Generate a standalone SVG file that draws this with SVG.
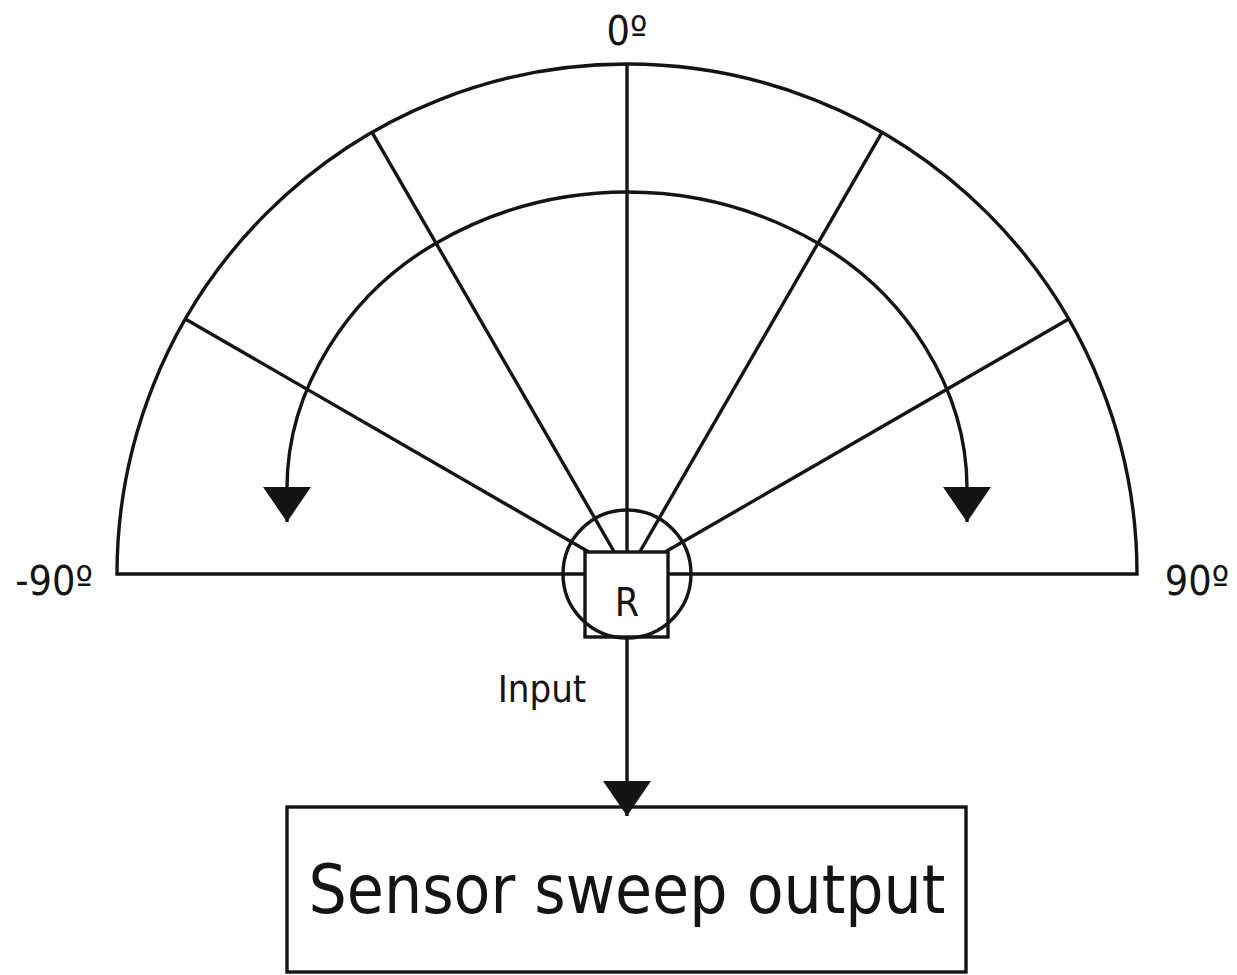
<svg xmlns="http://www.w3.org/2000/svg" width="1237" height="975" viewBox="0 0 1237 975">
<style>
.ln{fill:none;stroke:#141414;stroke-width:3.4;stroke-linejoin:miter}
.tx{font-family:"DejaVu Sans Condensed","DejaVu Sans",sans-serif;fill:#141414}
</style>
<defs>
<marker id="ah" markerUnits="userSpaceOnUse" viewBox="0 0 35 48" refX="35" refY="24" markerWidth="35" markerHeight="48" orient="auto">
<path d="M0,0 L35,24 L0,48 Z" fill="#141414"/>
</marker>
</defs>
<rect width="1237" height="975" fill="#fff"/>
<g id="sweep-field">
<path class="ln" d="M585,574 L117,574 A510,510 0 0 1 1137,574 L668,574"/>
<line class="ln" x1="185.3" y1="319" x2="588.9" y2="552"/>
<line class="ln" x1="372" y1="132.3" x2="614.3" y2="552"/>
<line class="ln" x1="627" y1="64" x2="627" y2="552"/>
<line class="ln" x1="882" y1="132.3" x2="639.7" y2="552"/>
<line class="ln" x1="1068.7" y1="319" x2="665.1" y2="552"/>
<circle class="ln" cx="627" cy="574" r="64"/>
</g>
<g id="sensor-R">
<rect class="ln" x="585" y="552" width="83" height="85"/>
<text class="tx" x="627" y="616" font-size="39" text-anchor="middle">R</text>
</g>
<g id="labels">
<text class="tx" x="627" y="45" font-size="41" text-anchor="middle">0º</text>
<text class="tx" x="54" y="595" font-size="41" text-anchor="middle">-90º</text>
<text class="tx" x="1197" y="595" font-size="41" text-anchor="middle">90º</text>
</g>
<g id="output-box">
<rect class="ln" x="287" y="807" width="679" height="165"/>
<text class="tx" x="627" y="913" font-size="67" text-anchor="middle">Sensor sweep output</text>
</g>
<g id="connectors">
<path class="ln" d="M627,192 A382,382 0 0 0 436,243.2 C349.4,293 287,388 287,488 L287,522" marker-end="url(#ah)"/>
<path class="ln" d="M627,192 A382,382 0 0 1 818,243.2 C904.6,293 967,388 967,488 L967,522" marker-end="url(#ah)"/>
<path class="ln" d="M627,637 L627,816" marker-end="url(#ah)"/>
<text class="tx" x="542" y="702" font-size="38" text-anchor="middle">Input</text>
</g>
</svg>
